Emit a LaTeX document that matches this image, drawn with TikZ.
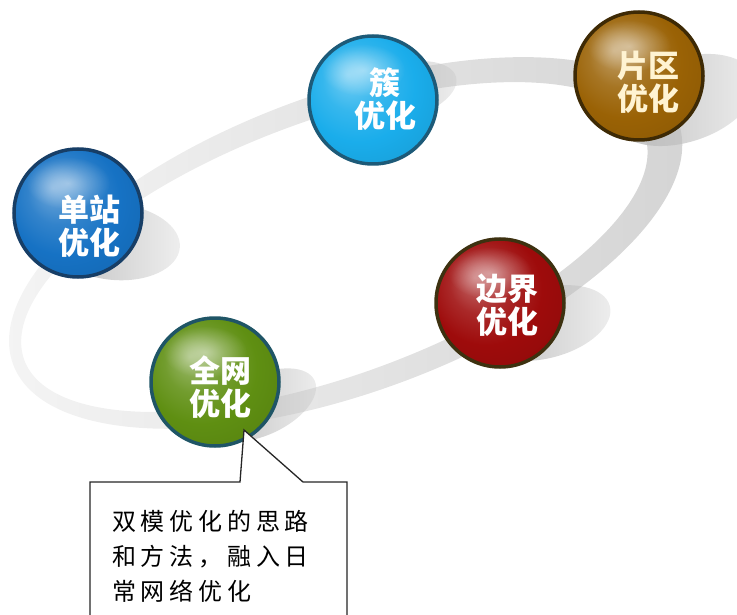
\documentclass[tikz,border=0pt]{standalone}
\usepackage{fontspec}
\newfontfamily\cjk{Noto Sans CJK SC}
\newfontfamily\cjknote{Noto Sans CJK SC}[LetterSpace=20]
\usetikzlibrary{fadings}
\tikzfading[name=softglow, inner color=transparent!0, outer color=transparent!100]
\tikzfading[name=shfade, left color=transparent!0, right color=transparent!75]
\definecolor{dzc}{HTML}{1672C4}\definecolor{dzb}{HTML}{173E66}
\definecolor{cuc}{HTML}{1AADEB}\definecolor{cub}{HTML}{1D5A78}
\definecolor{pqc}{HTML}{9A6205}\definecolor{pqb}{HTML}{3E2A05}
\definecolor{bjc}{HTML}{9E0B0B}\definecolor{bjb}{HTML}{3D3110}
\definecolor{qwc}{HTML}{5F8F12}\definecolor{qwb}{HTML}{1F5566}
\definecolor{cream}{HTML}{FFF3D2}
\colorlet{sphc}{blue}
\pgfdeclareradialshading[sphc]{sphere}{\pgfpoint{-10bp}{10bp}}{%
color(0bp)=(sphc!60!white); color(12bp)=(sphc!88!white); color(22bp)=(sphc);
color(40bp)=(sphc!88!black); color(50bp)=(sphc!72!black)}
\tikzset{
  ballnode/.style={circle, minimum size=128pt, inner sep=0pt, line width=3.5pt, draw=#1},
  gloss/.style={white, opacity=.45, path fading=softglow},
  shadowc/.style={fill=black!26, path fading=shfade},
  balltext/.style={font=\cjk\bfseries\fontsize{31}{33}\selectfont, align=center, inner sep=0pt, text=white},
  notetext/.style={font=\cjknote\fontsize{24}{35}\selectfont, anchor=base west, inner sep=0pt, text=black},
  callout/.style={fill=white, draw=black!85, line width=1.3pt, line join=miter}
}
\begin{document}
\begin{tikzpicture}[x=1pt,y=-1pt]
\useasboundingbox (0,0) rectangle (737,615);
% ring band
\begin{scope}[shift={(340,245)}, rotate=20]
  \shade[even odd rule, left color=black!4, right color=black!17]
    (6,0) ellipse [x radius=354pt, y radius=150pt]
    (-6,0) ellipse [x radius=330pt, y radius=128pt];
\end{scope}
% shadows
\fill[shadowc, rotate around={-5:(115,242)}] (115,242) ellipse [x radius=65pt, y radius=38pt];
\fill[shadowc, rotate around={15:(400,92)}] (400,92) ellipse [x radius=58pt, y radius=28pt];
\fill[shadowc, rotate around={18:(684,100)}] (684,100) ellipse [x radius=74pt, y radius=42pt];
\fill[shadowc, rotate around={15:(546,323)}] (546,323) ellipse [x radius=66pt, y radius=35pt];
\fill[shadowc, rotate around={25:(262,405)}] (262,405) ellipse [x radius=58pt, y radius=30pt];
% balls
\colorlet{sphc}{dzc}
\node[ballnode=dzb, shading=sphere] (dz) at (78,213) {};
\colorlet{sphc}{cuc}
\node[ballnode=cub, shading=sphere] (cu) at (373,100) {};
\colorlet{sphc}{pqc}
\node[ballnode=pqb, shading=sphere] (pq) at (639,76) {};
\colorlet{sphc}{bjc}
\node[ballnode=bjb, shading=sphere] (bj) at (500,303) {};
\colorlet{sphc}{qwc}
\node[ballnode=qwb, shading=sphere] (qw) at (215,382) {};
% gloss highlights
\foreach \b in {dz,cu,pq,bj,qw}{
  \fill[gloss] ([shift={(-10,-30)}]\b.center) ellipse [x radius=42pt, y radius=26pt];
}
% texts
\node[balltext] (dzt) at (89,226) {单站\\优化};
\node[balltext] (cut) at (385,99) {簇\\优化};
\node[balltext, text=cream] (pqt) at (648,82) {片区\\优化};
\node[balltext] (bjt) at (507,305) {边界\\优化};
\node[balltext] (qwt) at (220,387) {全网\\优化};
% callout
\coordinate (tip) at (244,430);
\draw[callout] (90,640) -- (90,482) -- (240,482) -- (tip) -- (303,482) -- (347,482) -- (347,640);
\node[notetext] (n1) at (112,530) {双模优化的思路};
\node[notetext] (n2) at (112,565) {和方法，融入日};
\node[notetext] (n3) at (112,600) {常网络优化};
\end{tikzpicture}
\end{document}
